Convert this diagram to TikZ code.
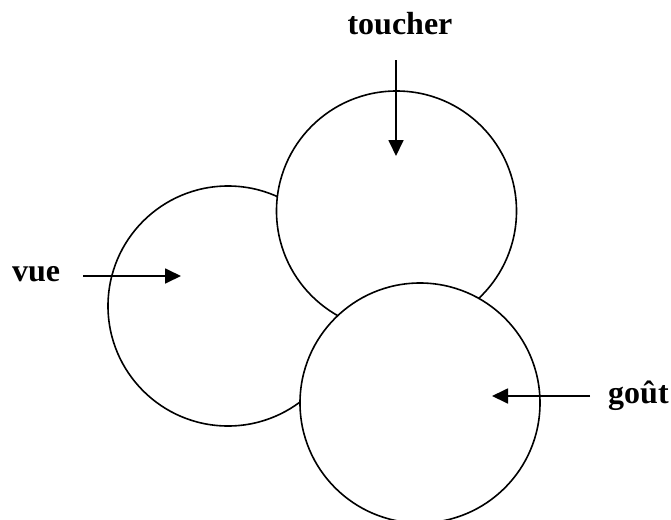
\documentclass[tikz,border=0pt]{standalone}
\usepackage{fontspec}
\setmainfont{Liberation Serif}
\usetikzlibrary{arrows.meta}
\begin{document}
\begin{tikzpicture}[x=1pt,y=-1pt,
  sense/.style={circle,draw,fill=white,line width=1.6pt,minimum size=240pt,inner sep=0pt},
  lbl/.style={font=\fontsize{32}{34}\selectfont\bfseries,inner sep=0pt},
  arr/.style={line width=1.8pt,-{Triangle[length=16pt,width=15pt]}}]
\useasboundingbox (0,0) rectangle (671,519);
\node[sense] (vue) at (228,306) {};
\node[sense] (toucher) at (396.5,211) {};
\node[sense] (gout) at (420,403) {};
\node[lbl,anchor=base] (tt) at (400,35) {toucher};
\node[lbl,anchor=base west] (tv) at (12,281) {vue};
\node[lbl,anchor=base west] (tg) at (608,403) {goût};
\coordinate (ts) at (396,60);
\coordinate (te) at (396,156);
\coordinate (vs) at (83,276);
\coordinate (ve) at (181,276);
\coordinate (gs) at (590,396);
\coordinate (ge) at (492,396);
\draw[arr] (ts) -- (te);
\draw[arr] (vs) -- (ve);
\draw[arr] (gs) -- (ge);
\end{tikzpicture}
\end{document}
